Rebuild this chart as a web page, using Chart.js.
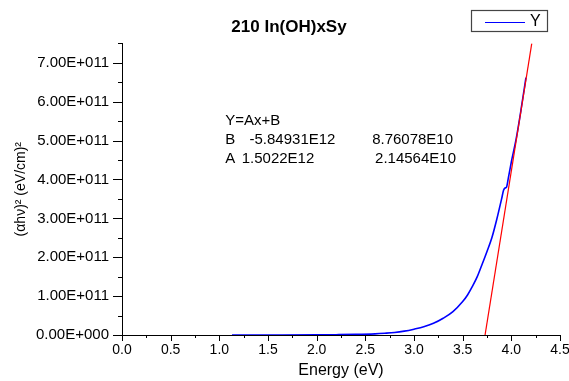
<!DOCTYPE html>
<html>
<head>
<meta charset="utf-8">
<script src="https://cdn.jsdelivr.net/npm/chart.js@4.4.0/dist/chart.umd.min.js"></script>
<style>
    html, body { margin: 0; padding: 0; background: #fff; }
</style>
</head>
<body>
<canvas id="grafico" width="569" height="381"></canvas>
<script>
// curva medida (energia em eV, (αhν)² em (eV/cm)²)
const energia = [1.13, 1.5, 2.0, 2.2, 2.4, 2.6, 2.7, 2.8, 2.9, 3.0, 3.1, 3.2, 3.3, 3.4, 3.5, 3.55, 3.6,
    3.65, 3.7, 3.75, 3.8, 3.85, 3.9, 3.92, 3.935, 3.95, 3.97, 4.0, 4.05, 4.1, 4.15];
const absorcao = [0, 0.001e11, 0.004e11, 0.008e11, 0.015e11, 0.03e11, 0.045e11, 0.065e11, 0.10e11,
    0.15e11, 0.21e11, 0.30e11, 0.43e11, 0.60e11, 0.86e11, 1.03e11, 1.25e11, 1.50e11, 1.82e11, 2.15e11,
    2.50e11, 2.97e11, 3.50e11, 3.72e11, 3.78e11, 3.80e11, 4.05e11, 4.45e11, 5.05e11, 5.80e11, 6.62e11];

// reta do ajuste linear como aparece no grafico
const ajusteX = [3.73, 4.21];
const ajusteY = [0, 7.5e11];

const legendaSerie = 'Y';
const titulo = '210 In(OH)xSy';
const tituloX = 'Energy (eV)';
const tituloY = '(αhν)² (eV/cm)²';

// texto do resultado do ajuste: [texto, x, y] em unidades dos eixos
const textoAjuste = [
    ['Y=Ax+B', 1.06, 5.51e11],
    ['B', 1.06, 5.02e11],
    ['-5.84931E12', 1.31, 5.02e11],
    ['8.76078E10', 2.57, 5.02e11],
    ['A', 1.06, 4.53e11],
    ['1.5022E12', 1.23, 4.53e11],
    ['2.14564E10', 2.60, 4.53e11]
];

const fonte = "'Liberation Sans', Arial, sans-serif";

function multiplo(valor, passo) {
    const r = valor / passo;
    return Math.abs(r - Math.round(r)) < 1e-6;
}

function formatarY(valor) {
    if (!multiplo(valor, 1e11)) return '';
    if (valor === 0) return '0.00E+000';
    return (valor / 1e11).toFixed(2) + 'E+011';
}

const extras = {
    id: 'extras',
    afterDraw(chart) {
        const ctx = chart.ctx;
        const sx = chart.scales.x;
        const sy = chart.scales.y;
        const area = chart.chartArea;

        // marcas dos eixos (maiores e menores)
        ctx.save();
        ctx.strokeStyle = '#000';
        ctx.lineWidth = 1;
        ctx.beginPath();
        sx.ticks.forEach(t => {
            const px = Math.round(sx.getPixelForValue(t.value)) + 0.5;
            const len = multiplo(t.value, 0.5) ? 6 : 3;
            ctx.moveTo(px, area.bottom);
            ctx.lineTo(px, area.bottom + len);
        });
        sy.ticks.forEach(t => {
            const py = Math.round(sy.getPixelForValue(t.value)) + 0.5;
            const len = multiplo(t.value, 1e11) ? 9 : 4;
            ctx.moveTo(area.left, py);
            ctx.lineTo(area.left - len, py);
        });
        ctx.stroke();

        // texto do ajuste
        ctx.fillStyle = '#000';
        ctx.font = '15px ' + fonte;
        ctx.textBaseline = 'middle';
        ctx.textAlign = 'left';
        textoAjuste.forEach(item => {
            ctx.fillText(item[0], sx.getPixelForValue(item[1]), sy.getPixelForValue(item[2]));
        });

        // legenda com moldura
        const ds = chart.data.datasets[0];
        const caixaW = 76, caixaH = 21;
        const caixaX = area.right - 13 - caixaW;
        const caixaY = 10;
        ctx.strokeStyle = '#444';
        ctx.lineWidth = 1.2;
        ctx.strokeRect(caixaX + 0.5, caixaY + 0.5, caixaW, caixaH);
        ctx.strokeStyle = ds.borderColor;
        ctx.lineWidth = 1;
        ctx.beginPath();
        ctx.moveTo(caixaX + 14, caixaY + 12.5);
        ctx.lineTo(caixaX + 54, caixaY + 12.5);
        ctx.stroke();
        ctx.font = '16px ' + fonte;
        ctx.fillText(ds.label, caixaX + 59, caixaY + 11.5);
        ctx.restore();
    }
};

const pontosCurva = energia.map((x, i) => ({ x: x, y: absorcao[i] }));
const pontosAjuste = ajusteX.map((x, i) => ({ x: x, y: ajusteY[i] }));

const grafico = new Chart(document.getElementById('grafico'), {
    type: 'line',
    data: {
        datasets: [
            {
                label: legendaSerie,
                data: pontosCurva,
                borderColor: '#0000FF',
                borderWidth: 1.6,
                pointRadius: 0,
                cubicInterpolationMode: 'monotone',
                fill: false,
                order: 2
            },
            {
                label: 'ajuste',
                data: pontosAjuste,
                borderColor: '#FF0000',
                borderWidth: 1.2,
                pointRadius: 0,
                fill: false,
                order: 1
            }
        ]
    },
    options: {
        responsive: false,
        animation: false,
        devicePixelRatio: 1,
        layout: { padding: { left: 9, right: 0, top: 0, bottom: 0 } },
        plugins: {
            legend: { display: false },
            tooltip: { enabled: false },
            title: {
                display: true,
                text: titulo,
                color: '#000',
                font: { family: fonte, size: 17, weight: 'bold' },
                padding: { top: 17, bottom: 6 }
            }
        },
        scales: {
            x: {
                type: 'linear',
                min: 0,
                max: 4.5,
                grid: { display: false, drawTicks: false, tickLength: 0 },
                border: { display: true, color: '#000', width: 1 },
                ticks: {
                    stepSize: 0.25,
                    autoSkip: false,
                    maxRotation: 0,
                    padding: 7,
                    color: '#000',
                    font: { family: fonte, size: 14 },
                    callback: v => multiplo(v, 0.5) ? v.toFixed(1) : ''
                },
                title: {
                    display: true,
                    text: tituloX,
                    color: '#000',
                    font: { family: fonte, size: 16 },
                    padding: { top: 2, bottom: 1 }
                },
                afterFit: s => {
                    s.height = 46;
                    s.paddingRight = 9;
                }
            },
            y: {
                type: 'linear',
                min: 0,
                max: 7.5e11,
                grid: { display: false, drawTicks: false, tickLength: 0 },
                border: { display: true, color: '#000', width: 1 },
                ticks: {
                    stepSize: 0.5e11,
                    autoSkip: false,
                    padding: 13,
                    color: '#000',
                    font: { family: fonte, size: 15 },
                    callback: formatarY
                },
                title: {
                    display: true,
                    text: tituloY,
                    color: '#000',
                    font: { family: fonte, size: 14 },
                    padding: { top: 4, bottom: 2 }
                },
                afterFit: s => { s.width = 113; }
            }
        }
    },
    plugins: [extras]
});
</script>
</body>
</html>
